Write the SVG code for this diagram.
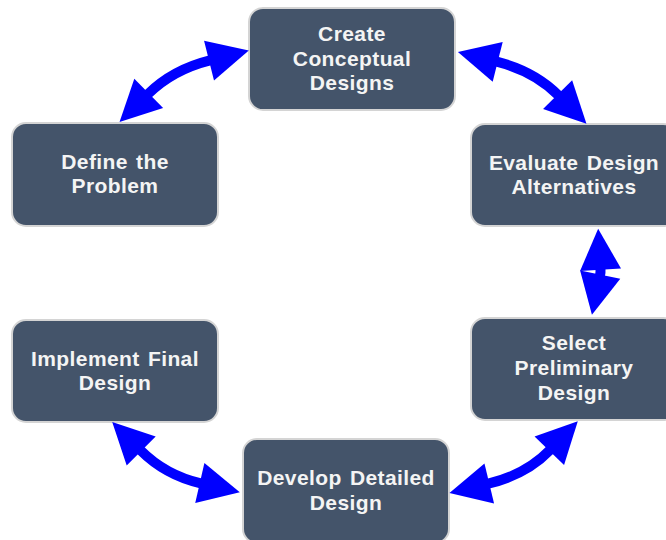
<svg xmlns="http://www.w3.org/2000/svg" width="666" height="540" viewBox="0 0 666 540">
<style>
.box{fill:#44546A;stroke:#d4d4d4;stroke-width:2}
.lbl{font-family:"Liberation Sans",Arial,sans-serif;font-weight:bold;font-size:21px;fill:#f4f4f4;text-anchor:middle;letter-spacing:0.4px;word-spacing:2px}
.shaft{fill:none;stroke:#0000FF;stroke-width:10;marker-start:url(#hs);marker-end:url(#he)}
</style>
<defs>
<marker id="he" markerUnits="userSpaceOnUse" orient="auto" refX="1" refY="0" markerWidth="50" markerHeight="50" overflow="visible">
<path d="M0,-20.5 L41,0 L0,20.5 z" fill="#0000FF"/>
</marker>
<marker id="hs" markerUnits="userSpaceOnUse" orient="auto" refX="-1" refY="0" markerWidth="50" markerHeight="50" overflow="visible">
<path d="M0,-20.5 L-41,0 L0,20.5 z" fill="#0000FF"/>
</marker>
</defs>
<g id="n-create"><rect class="box" x="249" y="8" width="206" height="102" rx="14"/>
<text class="lbl" x="352" y="41">Create</text><text class="lbl" x="352" y="65.5">Conceptual</text><text class="lbl" x="352" y="90">Designs</text></g>
<g id="n-define"><rect class="box" x="12" y="123" width="206" height="103" rx="14"/>
<text class="lbl" x="115" y="169">Define the</text><text class="lbl" x="115" y="193">Problem</text></g>
<g id="n-evaluate"><rect class="box" x="471" y="124" width="206" height="102" rx="14"/>
<text class="lbl" x="574" y="170">Evaluate Design</text><text class="lbl" x="574" y="194">Alternatives</text></g>
<g id="n-select"><rect class="box" x="471" y="318" width="206" height="102" rx="14"/>
<text class="lbl" x="574" y="350">Select</text><text class="lbl" x="574" y="375">Preliminary</text><text class="lbl" x="574" y="400">Design</text></g>
<g id="n-implement"><rect class="box" x="12" y="320" width="206" height="102" rx="14"/>
<text class="lbl" x="115" y="366">Implement Final</text><text class="lbl" x="115" y="390">Design</text></g>
<g id="n-develop"><rect class="box" x="243" y="439" width="206" height="104" rx="14"/>
<text class="lbl" x="346" y="485">Develop Detailed</text><text class="lbl" x="346" y="510">Design</text></g>
<g id="connectors">
<path class="shaft" d="M148,94 Q172.7,69.6 210,60.3"/>
<path class="shaft" d="M496.7,61.7 Q534.4,71.2 558.3,95.3"/>
<path class="shaft" d="M600.5,268.7 Q600.7,272.1 600,275.5"/>
<path class="shaft" d="M550,450 Q526.3,474.55 488.3,483.7"/>
<path class="shaft" d="M140.5,450.2 Q165.5,475.2 200.8,483.3"/>
</g>
</svg>
